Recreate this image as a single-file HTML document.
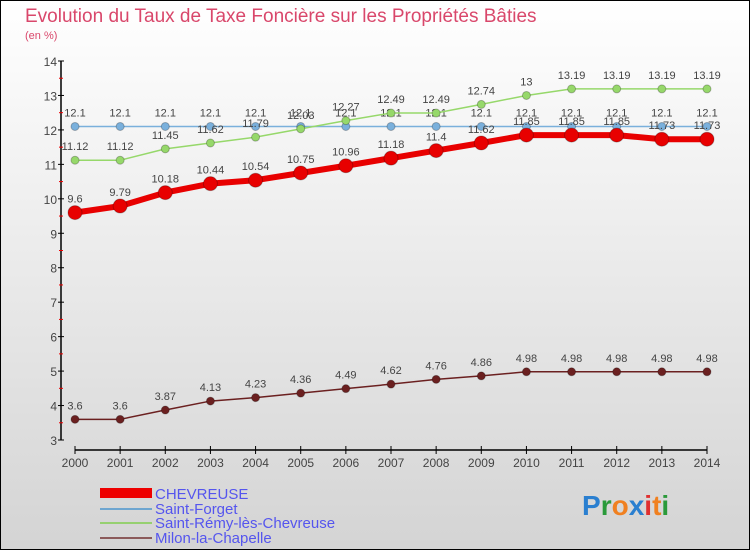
<!DOCTYPE html>
<html><head><meta charset="utf-8"><style>
body{margin:0;width:750px;height:550px;overflow:hidden;font-family:"Liberation Sans",sans-serif}
#c{position:absolute;left:0;top:0;width:748px;height:548px;border:1px solid #000;background:linear-gradient(#fff,#d4d4d4)}
</style></head><body>
<div id="c"></div>
<svg id="s" width="750" height="550" style="position:absolute;left:0;top:0" font-family="Liberation Sans, sans-serif">
<text x="25" y="22" font-size="19" fill="#d9476b">Evolution du Taux de Taxe Foncière sur les Propriétés Bâties</text>
<text x="25" y="39" font-size="11" fill="#d9476b">(en %)</text>
<g id="axes"></g><g id="series"></g>
<g>
<rect x="100" y="488" width="52" height="10" fill="#e00"/>
<text x="155" y="499" font-size="15" fill="#5555ee">CHEVREUSE</text>
<rect x="100" y="508" width="52" height="2" fill="#6fa6d0"/>
<text x="155" y="514" font-size="15" fill="#5555ee">Saint-Forget</text>
<rect x="100" y="522" width="52" height="2" fill="#96d070"/>
<text x="155" y="528" font-size="15" fill="#5555ee">Saint-Rémy-lès-Chevreuse</text>
<rect x="100" y="537" width="52" height="2" fill="#8b5a5a"/>
<text x="155" y="543" font-size="15" fill="#5555ee">Milon-la-Chapelle</text>
</g>
<text x="582" y="515" font-size="28" font-weight="bold"><tspan fill="#2a7fd0">P</tspan><tspan fill="#2a9a3a">r</tspan><tspan fill="#f08020">o</tspan><tspan fill="#2a7fd0">x</tspan><tspan fill="#e03030">i</tspan><tspan fill="#f08020">t</tspan><tspan fill="#2a9a3a">i</tspan></text>
</svg>
<script>
const years=[2000,2001,2002,2003,2004,2005,2006,2007,2008,2009,2010,2011,2012,2013,2014];
const yTicks=[3,4,5,6,7,8,9,10,11,12,13,14];
const chevreuse=[9.6,9.79,10.18,10.44,10.54,10.75,10.96,11.18,11.4,11.62,11.85,11.85,11.85,11.73,11.73];
const saintForget=[12.1,12.1,12.1,12.1,12.1,12.1,12.1,12.1,12.1,12.1,12.1,12.1,12.1,12.1,12.1];
const saintRemy=[11.12,11.12,11.45,11.62,11.79,12.03,12.27,12.49,12.49,12.74,13,13.19,13.19,13.19,13.19];
const milon=[3.6,3.6,3.87,4.13,4.23,4.36,4.49,4.62,4.76,4.86,4.98,4.98,4.98,4.98,4.98];
const NS="http://www.w3.org/2000/svg";
const X=i=>75+i*(707-75)/(years.length-1);
const Y=v=>440-(v-3)*(440-61)/11;
function mk(t,a,p){const e=document.createElementNS(NS,t);for(const k in a)e.setAttribute(k,a[k]);p.appendChild(e);return e;}
const ax=document.getElementById('axes');
let yl=mk('line',{x1:61,y1:Y(14),x2:61,y2:Y(3),stroke:'#000','stroke-width':1.5},ax);


yTicks.forEach(v=>{mk('line',{x1:58,y1:Y(v),x2:64,y2:Y(v),stroke:'#000'},ax);
 if(v<14)mk('line',{x1:59,y1:Y(v+0.5),x2:63,y2:Y(v+0.5),stroke:'#e00'},ax);
 const t=mk('text',{x:57,y:Y(v)+5,'font-size':12,fill:'#444','text-anchor':'end'},ax);t.textContent=v;
 
 });
let xl=mk('line',{x1:X(0),y1:450,x2:X(14),y2:450,stroke:'#000','stroke-width':1.5},ax);


years.forEach((y,i)=>{mk('line',{x1:X(i),y1:446,x2:X(i),y2:454,stroke:'#000'},ax);
 const t=mk('text',{x:X(i),y:467,'font-size':12,fill:'#444','text-anchor':'middle'},ax);t.textContent=y;
 
 });
const sg=document.getElementById('series');
function draw(vals,color,w,r,name,lab){
 const g=mk('g',{},sg);
 
 
 mk('polyline',{points:vals.map((v,i)=>X(i)+','+Y(v)).join(' '),fill:'none',stroke:color,'stroke-width':w,'stroke-linejoin':'round'},g);
 vals.forEach((v,i)=>{const c=mk('circle',{cx:X(i),cy:Y(v),r:r,fill:color,stroke:'rgba(0,0,0,0.25)'},g);
  
  
  if(lab){const t=mk('text',{x:X(i),y:Y(v)-10,'font-size':11,fill:'#444','text-anchor':'middle'},g);t.textContent=v;}});
}
draw(milon,'#6b2020',1.5,4,'milon',true);
draw(saintForget,'#7ab0dc',1.5,4,'saint-forget',true);
draw(saintRemy,'#96d86a',1.5,4,'saint-remy',true);
draw(chevreuse,'#e80000',6,7,'chevreuse',true);
</script>
</body></html>
